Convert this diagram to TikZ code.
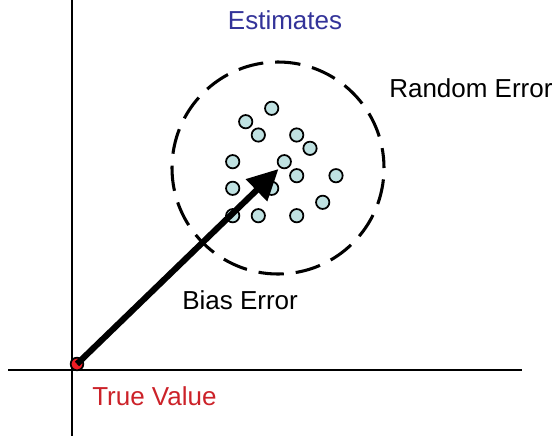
\documentclass[tikz,border=0pt]{standalone}
\usepackage{fontspec}
\setmainfont{Liberation Sans}
\usetikzlibrary{arrows.meta}
\definecolor{dotfill}{HTML}{BFE1E1}
\definecolor{estblue}{HTML}{333399}
\definecolor{truered}{HTML}{CC2229}
\definecolor{dotred}{HTML}{EE1C24}
\tikzset{
  lbl/.style={font=\fontsize{19.5}{23}\selectfont, inner sep=0pt},
  est/.style={circle, draw=black, line width=1.3pt, fill=dotfill, minimum size=10pt, inner sep=0pt},
  axis/.style={line width=1.6pt},
}
\begin{document}
\begin{tikzpicture}[x=0.75pt,y=-0.75pt]
\useasboundingbox (0,0) rectangle (556,436);
% axes
\coordinate (vt) at (72,0);
\coordinate (vb) at (72,436);
\coordinate (hl) at (8,370);
\coordinate (hr) at (522,370);
\draw[axis] (vt) -- (vb);
\draw[axis] (hl) -- (hr);
% dashed circle
\node[circle, draw, line width=2.3pt, dash pattern=on 19pt off 9pt, dash phase=4pt, minimum size=159pt, inner sep=0pt] (ring) at (278,168) {};
% estimates
\foreach \n/\x/\y in {a/271.7/108.3, b/245.7/121.7, c/258.3/135, d/296.7/135, e/310/148.3, f/232.7/161.7, g/284.3/161.7, h/296.7/175.7, i/336/175.7, j/232.7/188.3, k/271.7/188.3, l/322.7/202.3, m/232.7/215.7, n/258.3/215.7, o/296.7/215.7}
  \node[est] (\n) at (\x,\y) {};
% true value
\node[circle, draw=black, line width=1.3pt, fill=dotred, minimum size=9.5pt, inner sep=0pt] (true) at (77,364) {};
% bias arrow
\coordinate (tip) at (278.5,169);
\draw[line width=4.6pt, -{Triangle[length=23pt,width=22pt]}] (true.center) -- (tip);
% labels
\node[lbl, text=estblue] (lest) at (285,20) {Estimates};
\node[lbl, anchor=west] (lrand) at (389,88) {Random Error};
\node[lbl, anchor=west] (lbias) at (182,300) {Bias Error};
\node[lbl, anchor=west, text=truered] (ltrue) at (92,396) {True Value};
\end{tikzpicture}
\end{document}
